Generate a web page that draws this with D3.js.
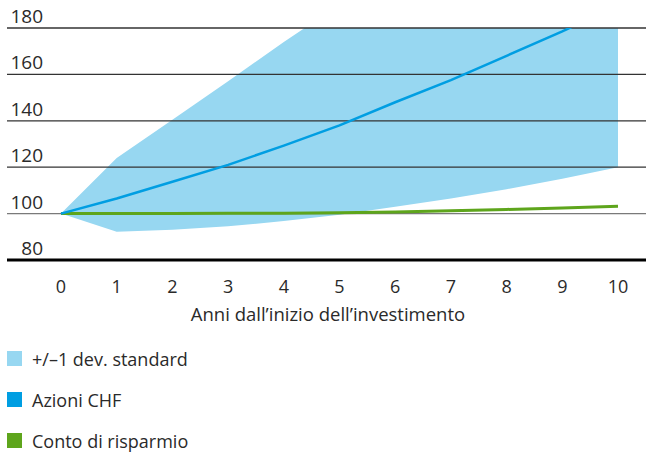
<!DOCTYPE html>
<html lang="it">
<head>
<meta charset="UTF-8">
<title>Azioni CHF vs Conto di risparmio</title>
<script src="https://d3js.org/d3.v7.min.js"></script>
<style>
  body { margin: 0; background: #fff; }
  text { font-family: "Open Sans", Lato, sans-serif; fill: #2a2a2a; }
</style>
</head>
<body>
<div id="chart"></div>
<script>
const years = [0, 1, 2, 3, 4, 5, 6, 7, 8, 9, 10];
const bandUpper = [100, 124, 140.5, 157, 174, 190, 207, 224, 242, 260, 278];
const bandLower = [100, 92.2, 93, 94.5, 96.8, 99.5, 103, 106.5, 110.5, 115, 120];
const azioni = [100, 106.5, 113.7, 121, 129.3, 138, 148, 157.5, 168, 178.5, 190];
const conto = [100, 100, 100, 100.1, 100.2, 100.4, 100.7, 101.2, 101.8, 102.4, 103.2];
const yTicks = [80, 100, 120, 140, 160, 180];
const xLabel = "Anni dall\u2019inizio dell\u2019investimento";
const legendItems = [
  { label: "+/\u20131 dev. standard", color: "#97d7f1" },
  { label: "Azioni CHF", color: "#009ee2" },
  { label: "Conto di risparmio", color: "#5ea51c" }
];

const width = 646, height = 452;
const svg = d3.select("#chart").append("svg")
  .attr("width", width).attr("height", height);

const x = d3.scaleLinear().domain([0, 10]).range([61, 618]);
const y = d3.scaleLinear().domain([80, 180]).range([260, 28]);

svg.append("clipPath").attr("id", "plot")
  .append("rect").attr("x", 0).attr("y", y(180)).attr("width", width).attr("height", y(80) - y(180));

// band
const area = d3.area().x((d, i) => x(years[i])).y0((d, i) => y(bandLower[i])).y1(d => y(d));
svg.append("path").datum(bandUpper)
  .attr("clip-path", "url(#plot)")
  .attr("fill", legendItems[0].color)
  .attr("d", area);

// grid lines
svg.selectAll(".grid").data(yTicks.filter(t => t !== 80)).join("line")
  .attr("x1", 7).attr("x2", width)
  .attr("y1", d => y(d)).attr("y2", d => y(d))
  .attr("stroke", d => d === 100 ? "#7a7a7a" : "#333")
  .attr("stroke-width", 1.3);
svg.append("line")
  .attr("x1", 7).attr("x2", width)
  .attr("y1", y(80)).attr("y2", y(80))
  .attr("stroke", "#000").attr("stroke-width", 3);

// y labels
svg.selectAll(".ylab").data(yTicks).join("text")
  .attr("x", 43).attr("y", d => y(d) - 5)
  .attr("text-anchor", "end")
  .attr("font-size", 19)
  .text(d => d);

// lines
const line = d3.line().x((d, i) => x(years[i])).y(d => y(d));
svg.append("path").datum(conto)
  .attr("fill", "none").attr("stroke", legendItems[2].color)
  .attr("stroke-width", 3).attr("d", line);
svg.append("path").datum(azioni)
  .attr("clip-path", "url(#plot)")
  .attr("fill", "none").attr("stroke", legendItems[1].color)
  .attr("stroke-width", 2.5).attr("d", line);

// x tick labels
svg.selectAll(".xlab").data(years).join("text")
  .attr("x", d => x(d)).attr("y", 293)
  .attr("text-anchor", "middle")
  .attr("font-size", 18)
  .text(d => d);

svg.append("text")
  .attr("x", 328).attr("y", 321)
  .attr("text-anchor", "middle")
  .attr("font-size", 18.5)
  .text(xLabel);

// legend
const lg = svg.selectAll(".lg").data(legendItems).join("g")
  .attr("transform", (d, i) => `translate(7, ${351 + i * 41})`);
lg.append("rect").attr("width", 15).attr("height", 15).attr("fill", d => d.color);
lg.append("text").attr("x", 25).attr("y", 15).attr("font-size", 18).text(d => d.label);
</script>
</body>
</html>
